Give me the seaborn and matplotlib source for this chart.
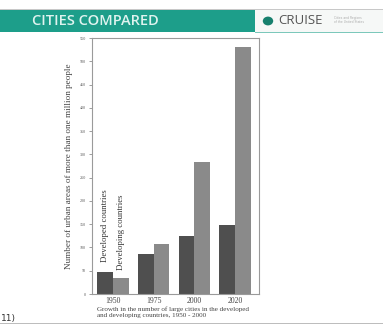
import matplotlib
matplotlib.use("Agg")
import matplotlib.pyplot as plt
from matplotlib.patches import Rectangle, Circle
import seaborn as sns
import pandas as pd

years = ["1950", "1975", "2000", "2020"]
developed = [48, 86, 125, 149]
developing = [35, 107, 284, 530]
groups = ["Developed countries", "Developing countries"]
y_ticks = list(range(0, 551, 50))

df = pd.DataFrame({
    "year": years * 2,
    "count": developed + developing,
    "group": [groups[0]] * len(years) + [groups[1]] * len(years),
})

sns.set_theme(style="white")
plt.rcParams["font.family"] = ["Liberation Serif", "DejaVu Serif"]

fig = plt.figure(figsize=(3.83, 3.25), dpi=100)
fig.patch.set_facecolor("white")

# Slide header: teal title band and logo box
fig.patches.append(Rectangle((0, 1 - 32 / 325), 255 / 383, 23 / 325, transform=fig.transFigure,
                             facecolor="#1d9e8a", edgecolor="none", zorder=0))
fig.patches.append(Rectangle((255 / 383, 1 - 32 / 325), 128 / 383, 23 / 325, transform=fig.transFigure,
                             facecolor="#f6f8f7", edgecolor="none", zorder=0))
fig.patches.append(Rectangle((255 / 383, 1 - 33 / 325), 128 / 383, 1.2 / 325, transform=fig.transFigure,
                             facecolor="#7cc8bb", edgecolor="none", zorder=1))
fig.patches.append(Rectangle((0, 1 - 9.5 / 325), 1, 0.8 / 325, transform=fig.transFigure,
                             facecolor="#c8c8c8", edgecolor="none", zorder=1))
fig.text(32 / 383, 1 - 21 / 325, "CITIES COMPARED", color="#dff3ef", fontsize=10.5,
         va="center", ha="left", fontfamily="Open Sans", fontweight="semibold")
fig.patches.append(Circle((268 / 383, 1 - 21 / 325), 5.2 / 383, transform=fig.transFigure,
                          facecolor="#17806e", edgecolor="none", zorder=2))
fig.text(278 / 383, 1 - 21 / 325, "CRUISE", color="#555555", fontsize=9.5,
         va="center", ha="left", fontfamily="Open Sans")
fig.text(334 / 383, 1 - 20 / 325, "Cities and Regions\nof the United States", color="#aaaaaa",
         fontsize=2.2, va="center", ha="left", linespacing=1.0, fontfamily="DejaVu Sans")

# Bottom rule and page marker
fig.patches.append(Rectangle((0, 1.5 / 325), 1, 1 / 325, transform=fig.transFigure,
                             facecolor="#bdbdbd", edgecolor="none", zorder=1))
fig.text(0.5 / 383, 1 - 318 / 325, "11)", fontsize=6.5, color="#333333", va="center", ha="left",
         fontfamily="DejaVu Sans")

ax = fig.add_axes([92 / 383, 1 - 294 / 325, 167 / 383, 256 / 325])
sns.barplot(data=df, x="year", y="count", hue="group", order=years, hue_order=groups,
            palette=["#4f4f4f", "#8a8a8a"], width=0.77, gap=0, saturation=1,
            edgecolor="none", legend=False, ax=ax)
ax.set_xlim(-0.52, 3.59)
ax.set_ylim(0, 550)
ax.set_yticks(y_ticks)
ax.set_yticklabels([str(v) for v in y_ticks])
ax.tick_params(axis="y", labelsize=3, length=2, width=0.5, color="#777777",
               labelcolor="#555555", pad=2.5, left=True)
ax.tick_params(axis="x", labelsize=5.6, length=0, pad=2, labelcolor="#444444")
ax.set_xlabel("")
ax.set_ylabel("Number of urban areas of more than one million people", fontsize=6.6,
              color="#444444", labelpad=5)
for s in ax.spines.values():
    s.set_color("#9a9a9a")
    s.set_linewidth(0.8)

# Series labels written vertically above the 1950 bars
bw = 0.77 / 2
ax.text(-bw / 2, developed[0] + 20, groups[0], rotation=90, ha="center", va="bottom",
        fontsize=6.3, color="#333333")
ax.text(bw / 2, developing[0] + 17, groups[1], rotation=90, ha="center", va="bottom",
        fontsize=6.3, color="#333333")

fig.text(97 / 383, 1 - 312 / 325,
         "Growth in the number of large cities in the developed\nand developing countries, 1950 - 2000",
         fontsize=5.1, color="#444444", va="center", ha="left", linespacing=1.15)

fig.savefig("out.png", dpi=100)
